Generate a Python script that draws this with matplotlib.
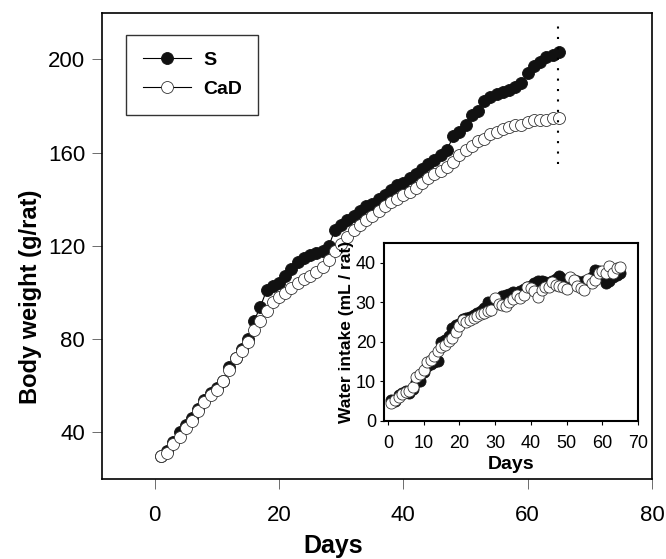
import numpy as np
import matplotlib
matplotlib.use("Agg")
import matplotlib.pyplot as plt

plt.rcParams['font.family'] = ['Liberation Sans', 'DejaVu Sans']

# Body weight (g/rat), days 1..65
days = list(range(1, 66))
s_weight = [30, 32, 36, 40, 43, 46, 50, 54, 57, 59,
            62, 68, 72, 76, 80, 88, 94, 101, 103, 104,
            107, 110, 113, 115, 116, 117, 118, 120, 127, 129,
            131, 133, 135, 137, 138, 140, 142, 144, 146, 147,
            149, 151, 153, 155, 157, 159, 161, 167, 169, 172,
            176, 178, 182, 184, 185, 186, 187, 188, 190, 194,
            197, 199, 201, 202, 203]
cad_weight = [30, 31, 35, 38, 42, 45, 49, 53, 56, 58,
              62, 67, 72, 75, 79, 84, 88, 92, 96, 98,
              100, 102, 104, 106, 107, 109, 111, 114, 118, 121,
              124, 127, 129, 131, 133, 135, 137, 139, 140, 142,
              143, 145, 147, 149, 151, 152, 154, 156, 159, 161,
              163, 165, 166, 168, 169, 170, 171, 172, 172, 173,
              174, 174, 174, 175, 175]

# Water intake (mL / rat), days 1..65
s_water = [5.2, 5.0, 6.5, 7.0, 7.5, 7.0, 8.0, 9.8, 10.2, 12.5,
           14.0, 14.5, 15.0, 15.2, 20.0, 20.5, 21.5, 23.5, 24.2, 24.5,
           25.8, 26.0, 26.3, 26.8, 27.3, 27.8, 28.5, 30.2, 29.8, 30.2,
           30.5, 31.6, 31.9, 32.2, 32.7, 32.0, 32.8, 33.5, 33.8, 34.2,
           34.8, 35.3, 35.5, 35.2, 35.0, 35.5, 36.0, 36.6, 36.0, 35.5,
           36.0, 35.8, 35.5, 35.0, 35.5, 35.3, 36.5, 38.3, 38.0, 37.0,
           35.0, 35.3, 36.5, 37.0, 37.4]
cad_water = [4.5, 5.2, 6.0, 6.8, 7.3, 7.6, 8.5, 11.0, 12.0, 13.0,
             15.0, 15.5, 16.5, 17.8, 18.6, 19.3, 20.2, 21.0, 22.5, 24.0,
             25.5, 25.0, 25.5, 26.0, 26.5, 27.0, 27.4, 27.8, 28.2, 31.0,
             29.5, 29.3, 29.0, 30.0, 30.8, 31.8, 31.2, 32.0, 34.0, 33.6,
             33.0, 31.3, 33.2, 33.8, 34.0, 35.2, 34.4, 34.2, 34.0, 33.5,
             36.5, 35.7, 34.2, 33.6, 33.2, 36.0, 34.9, 35.6, 37.5, 37.9,
             37.4, 39.1, 37.4, 38.7, 38.9]

end_day = 64.8

fig = plt.figure(figsize=(6.66, 5.59), dpi=100)
ax = fig.add_axes([0.153, 0.143, 0.826, 0.834])

ax.plot(days, s_weight, '-', color='black', lw=0.8, marker='o', ms=8.6,
        mfc='#111111', mec='#111111', mew=0.6, label='S')
ax.plot(days, cad_weight, '-', color='black', lw=0.8, marker='o', ms=8.6,
        mfc='white', mec='#333333', mew=0.6, label='CaD')
ax.vlines(end_day, 155, 217, colors='black', linestyles=(0, (1, 4)), lw=1.5)

ax.set_xlim(-8.5, 80)
ax.set_ylim(20, 220)
ax.set_xticks([0, 20, 40, 60, 80])
ax.set_yticks([40, 80, 120, 160, 200])
ax.tick_params(direction='out', length=7, width=0.6, color='#555555',
               labelsize=16, pad=12)
ax.tick_params(axis='y', pad=5)
for sp in ax.spines.values():
    sp.set_linewidth(1.2)
ax.set_xlabel('Days', fontsize=18, fontweight='bold')
ax.set_ylabel('Body weight (g/rat)', fontsize=17, fontweight='bold')
ax.xaxis.set_label_coords(0.42, -0.118)
ax.yaxis.set_label_coords(-0.108, 0.39)

leg = ax.legend(loc='upper left', bbox_to_anchor=(0.044, 0.953),
                prop={'weight': 'bold', 'size': 14}, fancybox=False,
                edgecolor='#333333', framealpha=1, handlelength=2.5,
                borderpad=0.85, labelspacing=0.6, handletextpad=0.6,
                borderaxespad=0)
leg.get_frame().set_linewidth(1.0)

# inset: water intake
ins = fig.add_axes([0.577, 0.247, 0.381, 0.318])
ins.plot(days, s_water, '-', color='black', lw=0.8, marker='o', ms=8.0,
         mfc='#111111', mec='#111111', mew=0.6)
ins.plot(days, cad_water, '-', color='black', lw=0.0, marker='o', ms=8.0,
         mfc='white', mec='#333333', mew=0.6)
ins.set_xlim(-1, 70)
ins.set_ylim(0, 45)
ins.set_xticks([0, 10, 20, 30, 40, 50, 60, 70])
ins.set_yticks([0, 10, 20, 30, 40])
ins.tick_params(direction='out', length=3, width=0.8, labelsize=13, pad=3)
ins.tick_params(axis='x', pad=7)
for sp in ins.spines.values():
    sp.set_linewidth(1.5)
ins.set_xlabel('Days', fontsize=14, fontweight='bold', labelpad=3)
ins.set_ylabel('Water intake (mL / rat)', fontsize=12.5, fontweight='bold', labelpad=1)

fig.savefig('out.png', dpi=100)
